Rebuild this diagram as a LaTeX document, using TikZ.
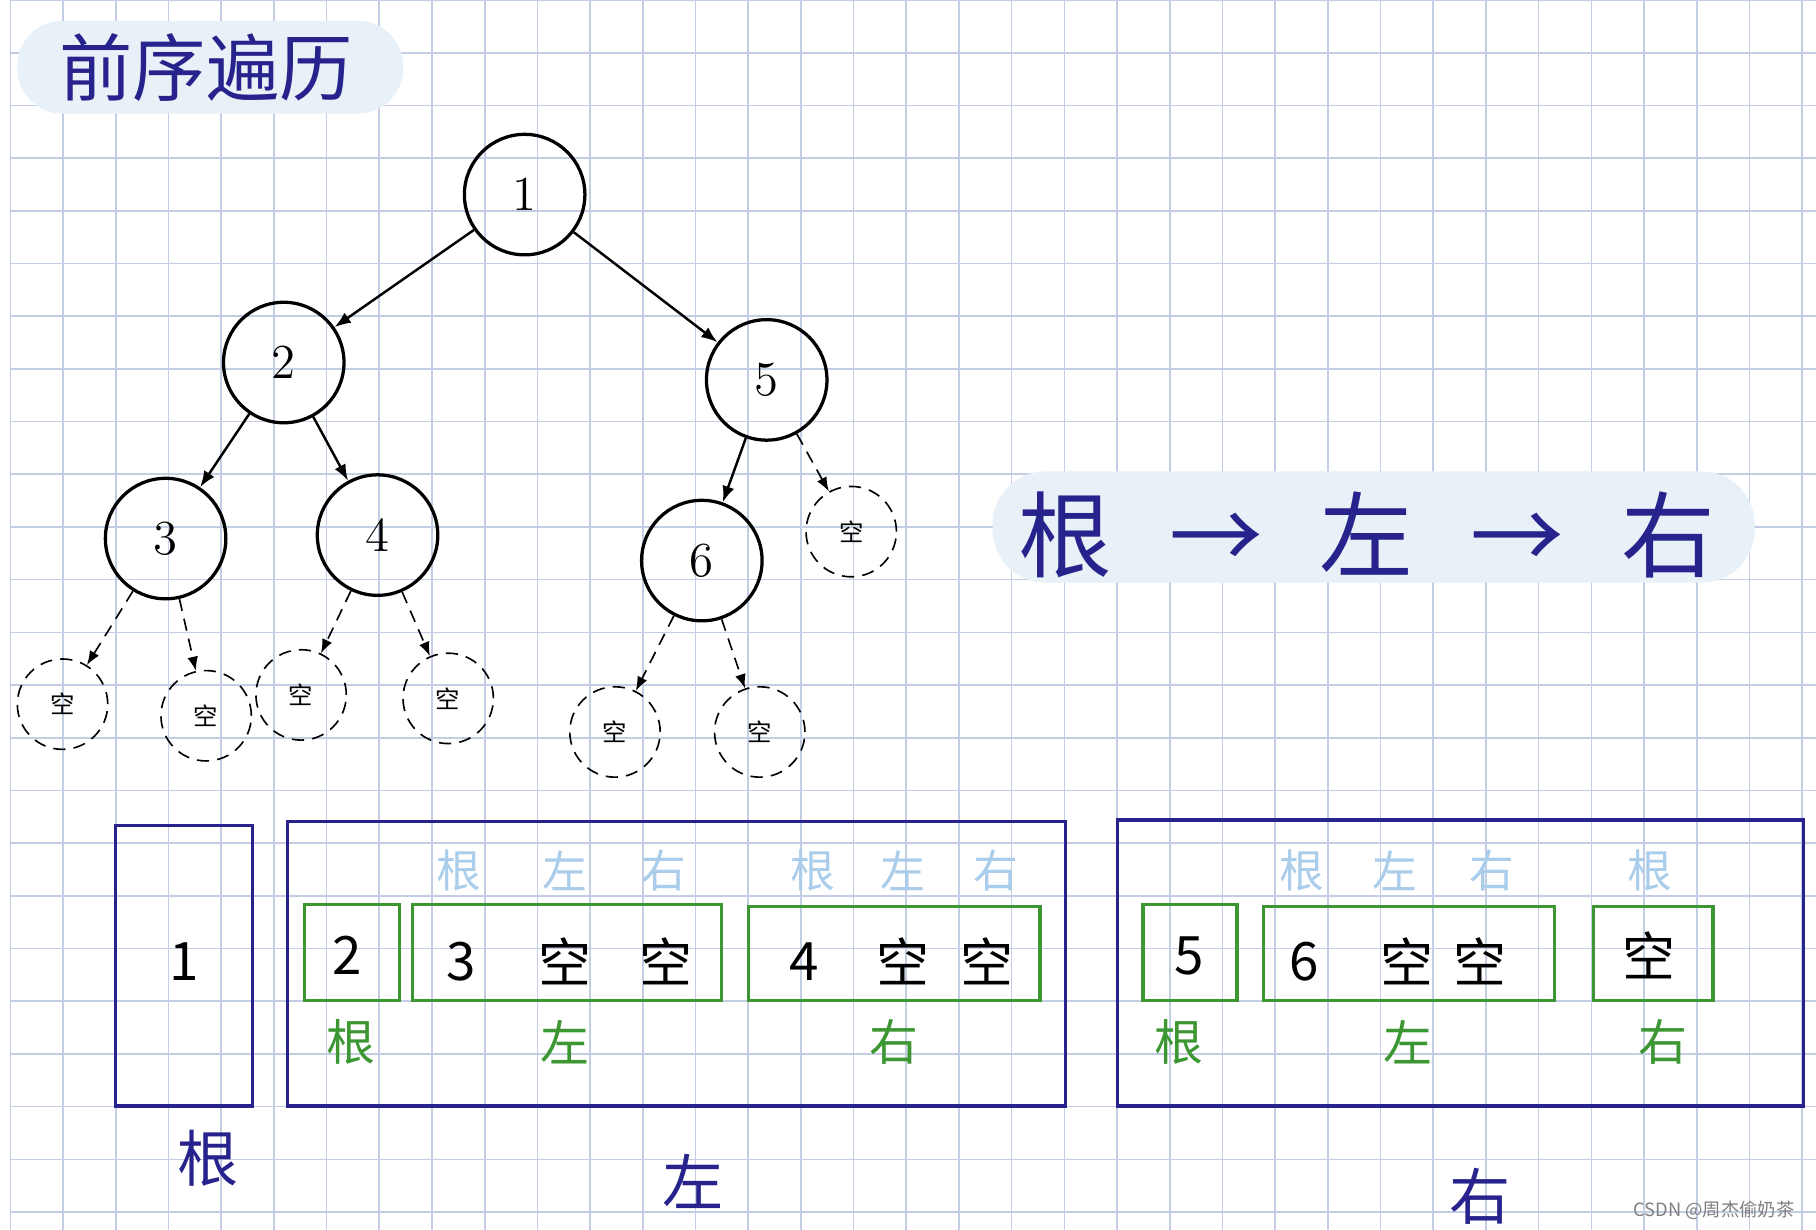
\documentclass[tikz,border=0pt]{standalone}
\usepackage{fontspec}
\newfontfamily\cjk{Noto Sans CJK SC}
\usetikzlibrary{arrows.meta}
\definecolor{navy}{RGB}{40,35,140}
\definecolor{grn}{RGB}{60,150,50}
\definecolor{pale}{RGB}{170,205,235}
\definecolor{gridc}{RGB}{195,205,228}
\definecolor{bgpill}{RGB}{232,240,248}
\tikzset{
  tnode/.style={shape=circle,draw=black,thick,minimum size=1.04cm,inner sep=0pt,font=\fontsize{12}{12}\selectfont},
  nnode/.style={shape=circle,draw=black,densely dashed,minimum size=0.78cm,inner sep=0pt,font=\cjk\fontsize{6}{6}\selectfont},
  tedge/.style={-{Latex[length=4pt]},semithick},
  nedge/.style={-{Latex[length=3.5pt]},densely dashed},
  outbox/.style={draw=navy,thick},
  grpbox/.style={draw=grn,thick},
  boxtxt/.style={font=\cjk\fontsize{13}{13}\selectfont},
  palelbl/.style={text=pale,font=\cjk\fontsize{11}{11}\selectfont},
  grnlbl/.style={text=grn,font=\cjk\fontsize{12}{12}\selectfont},
  navylbl/.style={text=navy,font=\cjk\fontsize{15}{15}\selectfont}
}
\begin{document}
\begin{tikzpicture}[x=0.01cm,y=-0.01cm]
	\useasboundingbox (0,0) rectangle (1568,1062);
	\fill[white] (0,0) rectangle (1568,1062);
	\foreach \i in {0,...,34} \draw[gridc,thin] (9+45.5*\i,0) -- (9+45.5*\i,1062);
	\foreach \j in {0,...,23} \draw[gridc,thin] (9,0+45.5*\j) -- (1568,0+45.5*\j);

	% title and rule
	\fill[bgpill,rounded corners=11pt] (15,18) rectangle (348,98);
	\node[text=navy,font=\cjk\fontsize{18}{18}\selectfont] (title) at (178,58) {前序遍历};
	\fill[bgpill,rounded corners=13pt] (857,407) rectangle (1515,503);
	\node[text=navy,font=\cjk\fontsize{23}{23}\selectfont] (rule) at (1180,462) {根\hspace{14pt}→\hspace{14pt}左\hspace{14pt}→\hspace{14pt}右};

	% tree
	\node[tnode] (n1) at (453,168) {1};
	\node[tnode] (n2) at (245,313) {2};
	\node[tnode] (n5) at (662,328) {5};
	\node[tnode] (n3) at (143,465) {3};
	\node[tnode] (n4) at (326,462) {4};
	\node[tnode] (n6) at (606,484) {6};
	\node[nnode] (e3a) at (54,608)  {空};
	\node[nnode] (e3b) at (178,618) {空};
	\node[nnode] (e4a) at (260,600) {空};
	\node[nnode] (e4b) at (387,603) {空};
	\node[nnode] (e6a) at (531,632) {空};
	\node[nnode] (e6b) at (656,632) {空};
	\node[nnode] (e5b) at (735,459) {空};

	\path[tedge] (n1) edge (n2);
	\path[tedge] (n1) edge (n5);
	\path[tedge] (n2) edge (n3);
	\path[tedge] (n2) edge (n4);
	\path[tedge] (n5) edge (n6);
	\path[nedge] (n5) edge (e5b);
	\path[nedge] (n3) edge (e3a);
	\path[nedge] (n3) edge (e3b);
	\path[nedge] (n4) edge (e4a);
	\path[nedge] (n4) edge (e4b);
	\path[nedge] (n6) edge (e6a);
	\path[nedge] (n6) edge (e6b);

	% sequence boxes
	\draw[outbox] (100,713) rectangle (218,955);
	\node[boxtxt] (s1) at (159,830) {1};
	\draw[outbox] (248,709) rectangle (920,955);
	\draw[outbox] (965,708) rectangle (1557,955);

	\draw[grpbox] (263,781) rectangle (345,864);
	\draw[grpbox] (356,781) rectangle (623,864);
	\draw[grpbox] (646,783) rectangle (898,864);
	\draw[grpbox] (987,781) rectangle (1068,864);
	\draw[grpbox] (1091,783) rectangle (1342,864);
	\draw[grpbox] (1376,783) rectangle (1479,864);

	\node[boxtxt] (s2) at (300,825) {2};
	\node[boxtxt] (s3) at (398,830) {3};
	\node[boxtxt] (s3a) at (488,830) {空};
	\node[boxtxt] (s3b) at (575,830) {空};
	\node[boxtxt] (s4) at (694,830) {4};
	\node[boxtxt] (s4a) at (780,830) {空};
	\node[boxtxt] (s4b) at (852,830) {空};
	\node[boxtxt] (s5) at (1027,825) {5};
	\node[boxtxt] (s6) at (1126,830) {6};
	\node[boxtxt] (s6a) at (1215,830) {空};
	\node[boxtxt] (s6b) at (1278,830) {空};
	\node[boxtxt] (s7) at (1424,825) {空};

	% pale labels
	\foreach \x/\t in {396/根,488/左,573/右,702/根,780/左,860/右,1124/根,1204/左,1288/右,1425/根}
		\node[palelbl] at (\x,752) {\t};
	% green labels
	\foreach \x/\t in {303/根,488/左,772/右,1018/根,1216/左,1436/右}
		\node[grnlbl] at (\x,900) {\t};
	% navy labels
	\node[navylbl] (lr) at (180,1000) {根};
	\node[navylbl] (ll) at (598,1020) {左};
	\node[navylbl] (lrt) at (1278,1033) {右};

	\node[text=gray,font=\cjk\fontsize{4.5}{4.5}\selectfont] (mark) at (1480,1045) {CSDN @周杰偷奶茶};
\end{tikzpicture}
\end{document}
